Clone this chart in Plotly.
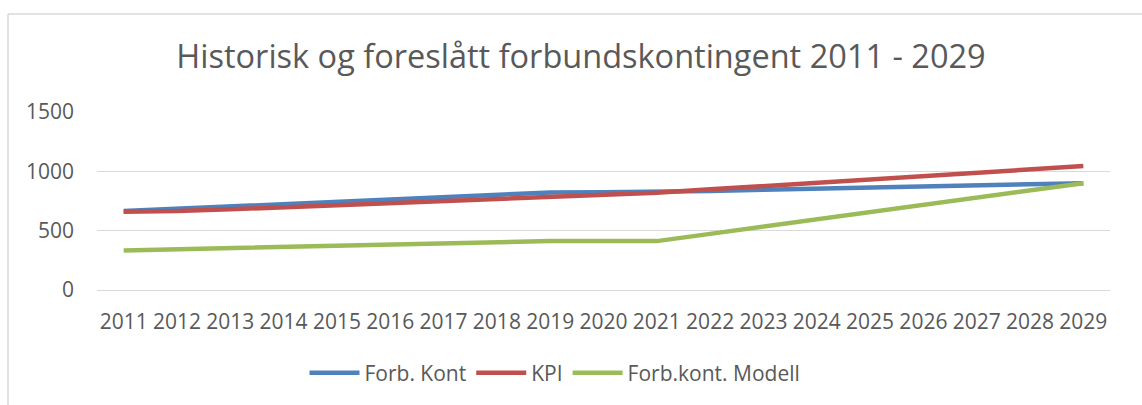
import plotly.graph_objects as go

years = [str(y) for y in range(2011, 2030)]
forb_kont = [665, 685, 705, 725, 745, 765, 785, 805, 822, 824, 825, 835, 845, 855, 865, 875, 885, 893, 900]
kpi = [660, 665, 680, 697, 715, 735, 752, 770, 788, 800, 820, 848, 876, 904, 932, 960, 988, 1016, 1044]
modell = [333, 343, 352, 362, 372, 382, 392, 402, 412, 412, 412, 473, 534, 595, 656, 717, 778, 839, 900]

series = [
    ("Forb. Kont", forb_kont, "#4F81BD"),
    ("KPI", kpi, "#C0504D"),
    ("Forb.kont. Modell", modell, "#9BBB59"),
]

fig = go.Figure()
for name, vals, col in series:
    fig.add_trace(go.Scatter(x=years, y=vals, name=name, mode="lines",
                             line=dict(color=col, width=4.5)))

L, R, T, B = 97, 32, 112, 113
W, H = 1142, 405
pw, ph = W - L - R, H - T - B

fig.update_layout(
    width=W, height=H,
    margin=dict(l=L, r=R, t=T, b=B),
    paper_bgcolor="white", plot_bgcolor="white",
    font=dict(family="Open Sans", color="#595959", size=21),
    title=dict(text="Historisk og foreslått forbundskontingent 2011 - 2029",
               x=581 / W, xanchor="center", xref="container", y=1 - 57 / H, yanchor="middle",
               font=dict(size=32.5, color="#595959")),
    xaxis=dict(type="category", range=[-0.5, 18.5], showgrid=False, zeroline=False,
               showline=False, ticks="", ticklabelstandoff=17,
               tickfont=dict(size=21, color="#595959")),
    yaxis=dict(range=[0, 1500], tickvals=[0, 500, 1000, 1500], showgrid=True,
               gridcolor="#d9d9d9", gridwidth=1, zeroline=True, zerolinecolor="#d9d9d9",
               zerolinewidth=1, showline=False, ticks="", ticklabelstandoff=22,
               tickfont=dict(size=21, color="#595959")),
    legend=dict(orientation="h", x=(555 - L) / pw, xanchor="center",
                y=-(376 - (H - B)) / ph, yanchor="middle", itemwidth=50,
                font=dict(size=21, color="#595959")),
    shapes=[
        dict(type="line", xref="paper", yref="paper",
             x0=(8 - L) / pw, x1=(8 - L) / pw, y0=(H - B - 13) / ph, y1=-(B + 5) / ph,
             line=dict(color="#d9d9d9", width=1.5)),
        dict(type="line", xref="paper", yref="paper",
             x0=(8 - L) / pw, x1=(W + 5 - L) / pw, y0=(H - B - 13) / ph, y1=(H - B - 13) / ph,
             line=dict(color="#d9d9d9", width=1.5)),
    ],
)

fig.write_html("out.html")
